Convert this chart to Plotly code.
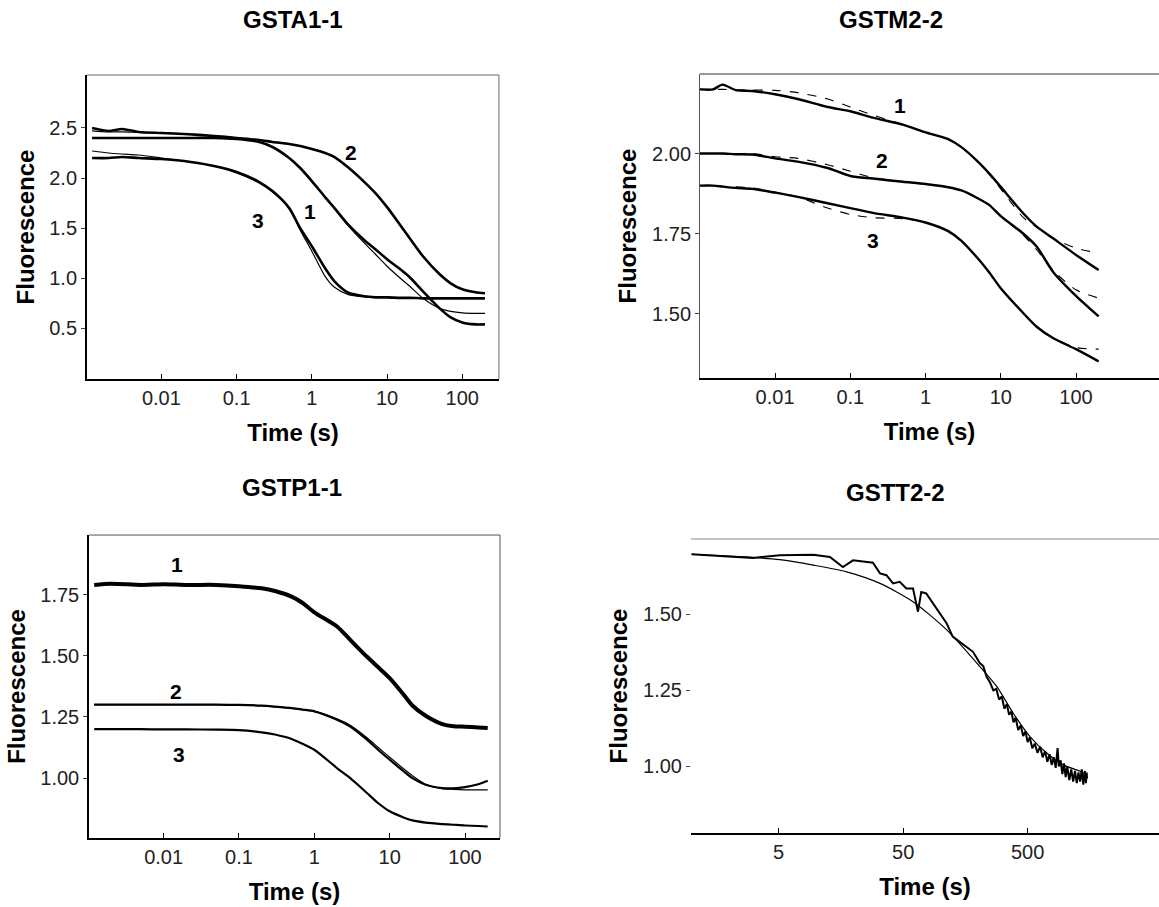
import plotly.graph_objects as go

# ---------------- data ----------------
# GSTA1-1
a_t = [0.0012, 0.002, 0.003, 0.005, 0.01, 0.02, 0.05, 0.1, 0.2, 0.3, 0.5, 0.7, 1, 1.5, 2, 3, 5, 7, 10, 15, 20, 30, 50, 70, 100, 150, 200]
a_d1 = [2.40, 2.40, 2.40, 2.40, 2.40, 2.40, 2.40, 2.39, 2.36, 2.31, 2.20, 2.10, 1.97, 1.81, 1.70, 1.54, 1.38, 1.29, 1.19, 1.09, 1.01, 0.87, 0.70, 0.61, 0.56, 0.54, 0.54]
a_f1 = [2.40, 2.40, 2.40, 2.40, 2.40, 2.40, 2.40, 2.39, 2.36, 2.31, 2.20, 2.10, 1.97, 1.81, 1.70, 1.53, 1.35, 1.24, 1.12, 1.00, 0.92, 0.80, 0.70, 0.67, 0.655, 0.65, 0.65]
a_d2 = [2.50, 2.47, 2.49, 2.46, 2.45, 2.44, 2.42, 2.40, 2.38, 2.36, 2.34, 2.32, 2.29, 2.25, 2.21, 2.11, 1.96, 1.85, 1.71, 1.53, 1.40, 1.22, 1.04, 0.95, 0.89, 0.86, 0.85]
a_f2 = [2.47, 2.46, 2.46, 2.455, 2.45, 2.44, 2.42, 2.40, 2.38, 2.36, 2.34, 2.32, 2.29, 2.25, 2.21, 2.11, 1.96, 1.85, 1.71, 1.53, 1.40, 1.22, 1.04, 0.95, 0.89, 0.86, 0.85]
a_d3 = [2.20, 2.20, 2.21, 2.20, 2.19, 2.17, 2.12, 2.06, 1.96, 1.87, 1.70, 1.50, 1.32, 1.10, 0.97, 0.86, 0.82, 0.81, 0.81, 0.805, 0.805, 0.80, 0.80, 0.80, 0.80, 0.80, 0.80]
a_f3 = [2.27, 2.25, 2.24, 2.23, 2.20, 2.17, 2.12, 2.05, 1.95, 1.86, 1.70, 1.48, 1.27, 1.02, 0.91, 0.84, 0.815, 0.81, 0.81, 0.805, 0.805, 0.80, 0.80, 0.80, 0.80, 0.80, 0.80]

# GSTM2-2
m_t = [0.001, 0.0015, 0.002, 0.003, 0.005, 0.01, 0.02, 0.05, 0.1, 0.2, 0.5, 1, 2, 3, 5, 7, 10, 20, 30, 50, 100, 200]
m_d1 = [2.20, 2.20, 2.215, 2.198, 2.195, 2.185, 2.17, 2.145, 2.132, 2.112, 2.09, 2.066, 2.045, 2.02, 1.974, 1.938, 1.896, 1.813, 1.772, 1.735, 1.684, 1.637]
m_f1 = [2.20, 2.20, 2.20, 2.199, 2.198, 2.197, 2.19, 2.17, 2.145, 2.12, 2.09, 2.066, 2.045, 2.02, 1.974, 1.935, 1.89, 1.80, 1.77, 1.735, 1.705, 1.69]
m_d2 = [2.00, 2.00, 2.00, 1.998, 1.997, 1.985, 1.975, 1.955, 1.93, 1.922, 1.912, 1.905, 1.895, 1.885, 1.86, 1.84, 1.805, 1.75, 1.71, 1.63, 1.556, 1.492]
m_f2 = [2.00, 2.00, 2.00, 2.00, 2.00, 1.99, 1.985, 1.965, 1.945, 1.925, 1.912, 1.905, 1.895, 1.885, 1.86, 1.84, 1.805, 1.745, 1.70, 1.635, 1.575, 1.549]
m_d3 = [1.90, 1.90, 1.897, 1.893, 1.89, 1.878, 1.865, 1.845, 1.83, 1.815, 1.80, 1.785, 1.758, 1.728, 1.672, 1.63, 1.58, 1.502, 1.46, 1.424, 1.39, 1.352]
m_f3 = [1.90, 1.90, 1.898, 1.896, 1.893, 1.88, 1.865, 1.83, 1.81, 1.80, 1.797, 1.785, 1.758, 1.728, 1.672, 1.63, 1.58, 1.502, 1.46, 1.425, 1.395, 1.39]

# GSTP1-1
p_t = [0.0012, 0.002, 0.005, 0.01, 0.02, 0.05, 0.1, 0.2, 0.3, 0.5, 0.7, 1, 2, 3, 5, 7, 10, 15, 20, 30, 50, 70, 100, 150, 200]
p_d1 = [1.79, 1.795, 1.79, 1.793, 1.79, 1.79, 1.785, 1.776, 1.765, 1.742, 1.716, 1.678, 1.62, 1.565, 1.496, 1.454, 1.409, 1.345, 1.297, 1.255, 1.221, 1.212, 1.21, 1.207, 1.205]
p_d2 = [1.30, 1.30, 1.30, 1.30, 1.30, 1.30, 1.299, 1.296, 1.292, 1.286, 1.28, 1.273, 1.239, 1.211, 1.157, 1.116, 1.075, 1.03, 1.00, 0.973, 0.959, 0.958, 0.963, 0.975, 0.989]
p_f2 = [1.30, 1.30, 1.30, 1.30, 1.30, 1.30, 1.299, 1.296, 1.292, 1.286, 1.28, 1.273, 1.242, 1.216, 1.165, 1.126, 1.085, 1.04, 1.01, 0.975, 0.957, 0.954, 0.952, 0.952, 0.952]
p_d3 = [1.20, 1.20, 1.20, 1.199, 1.199, 1.198, 1.196, 1.187, 1.178, 1.16, 1.14, 1.116, 1.041, 1.00, 0.939, 0.898, 0.864, 0.84, 0.827, 0.818, 0.812, 0.809, 0.806, 0.804, 0.802]

# GSTT2-2 (noisy trace, read point by point)
t_t = [1.0, 2.04, 3.1, 5.1, 9.5, 12.9, 16.4, 19.8, 23.8, 28.6, 32.6, 36.7, 41.5, 46.9, 53.1, 60, 65.8, 69.9,
       76.6, 86.5, 97.8, 112, 125, 142, 161, 182, 207, 220, 234, 250, 265, 280, 295, 310, 325, 340, 355, 370,
       385, 400, 420, 440, 460, 480, 500, 520, 545, 570, 600, 630, 660, 690, 720, 750, 780, 810, 840, 870,
       890, 920, 950, 980, 1010, 1040, 1080, 1120, 1160, 1200, 1240, 1280, 1320, 1360, 1400, 1440, 1470, 1490, 1500]
t_d = [1.698, 1.691, 1.686, 1.695, 1.696, 1.689, 1.656, 1.678, 1.673, 1.670, 1.635, 1.629, 1.602, 1.607, 1.585, 1.585, 1.509, 1.574,
       1.569, 1.536, 1.503, 1.47, 1.427, 1.41, 1.394, 1.377, 1.339, 1.33, 1.295, 1.275, 1.25, 1.255, 1.22, 1.23, 1.19, 1.205, 1.17, 1.18,
       1.145, 1.16, 1.12, 1.135, 1.10, 1.115, 1.08, 1.095, 1.06, 1.075, 1.045, 1.065, 1.03, 1.05, 1.015, 1.04, 1.005, 1.03, 0.995, 1.06,
       1.00, 1.02, 0.975, 1.01, 0.965, 1.00, 0.955, 0.99, 0.95, 0.985, 0.945, 0.98, 0.95, 0.99, 0.94, 0.985, 0.945, 0.98, 0.96]
t_ft = [1.0, 2.77, 5.1, 9.5, 17.6, 32.6, 60, 112, 207, 282, 383, 522, 711, 968, 1317, 1490]
t_f = [1.698, 1.689, 1.68, 1.662, 1.64, 1.602, 1.542, 1.449, 1.328, 1.263, 1.175, 1.098, 1.044, 1.005, 0.984, 0.973]

x_ticks = [0.01, 0.1, 1, 10, 100]
x_ticktext = ["0.01", "0.1", "1", "10", "100"]
t_xticks = [5, 50, 500]
a_yticks = [0.5, 1.0, 1.5, 2.0, 2.5]
m_yticks = [1.50, 1.75, 2.00]
p_yticks = [1.00, 1.25, 1.50, 1.75]
tt_yticks = [1.00, 1.25, 1.50]

# ---------------- figure ----------------
fig = go.Figure()
FONT = "Liberation Sans, Arial, sans-serif"


def add(x, y, ax, width, dash="solid", shape="spline"):
    fig.add_trace(go.Scatter(
        x=x, y=y, mode="lines", xaxis="x" + ax, yaxis="y" + ax,
        line=dict(color="black", width=width, dash=dash, shape=shape, smoothing=0.7),
        showlegend=False, hoverinfo="skip"))


# panel A
add(a_t, a_f1, "", 1.2)
add(a_t, a_f2, "", 1.2)
add(a_t, a_f3, "", 1.2)
add(a_t, a_d1, "", 2.6)
add(a_t, a_d2, "", 2.6)
add(a_t, a_d3, "", 2.6)
# panel M
add(m_t, m_f1, "2", 1.1, "dash")
add(m_t, m_f2, "2", 1.1, "dash")
add(m_t, m_f3, "2", 1.1, "dash")
add(m_t, m_d1, "2", 2.4)
add(m_t, m_d2, "2", 2.4)
add(m_t, m_d3, "2", 2.4)
# panel P
add(p_t, p_f2, "3", 1.2)
add(p_t, p_d1, "3", 4.0)
add(p_t, p_d2, "3", 2.2)
add(p_t, p_d3, "3", 2.2)
# panel T
add(t_ft, t_f, "4", 1.2, "solid")
add(t_t, t_d, "4", 2.0, "solid", "linear")

tickfont = dict(family=FONT, size=20, color="#222")
titlefont = dict(family=FONT, size=24, color="black", weight="bold")


def xax(domain, anchor, rng, tickvals, ticktext):
    return dict(type="log", domain=domain, anchor=anchor, range=rng,
                tickvals=tickvals, ticktext=ticktext, ticks="inside", ticklen=5,
                tickcolor="black", tickwidth=1, showline=True, linecolor="black",
                linewidth=2, showgrid=False, zeroline=False, tickfont=tickfont,
                title=dict(text="Time (s)", font=titlefont, standoff=16))


def yax(domain, anchor, rng, tickvals, ticktext, showline, lw, lc):
    return dict(domain=domain, anchor=anchor, range=rng,
                tickvals=tickvals, ticktext=ticktext, ticks="outside", ticklen=4,
                tickcolor="#444", tickwidth=1, showline=showline, linecolor=lc,
                linewidth=lw, showgrid=False, zeroline=False, tickfont=tickfont,
                title=dict(text="Fluorescence", font=titlefont, standoff=8))


fig.update_layout(
    width=1159, height=907, margin=dict(l=0, r=0, t=0, b=0),
    paper_bgcolor="white", plot_bgcolor="white", showlegend=False,
    xaxis=xax([0.0751, 0.4305], "y", [-2.988, 2.487], x_ticks, x_ticktext),
    yaxis=yax([0.5821, 0.9173], "x", [-0.005, 3.028], a_yticks,
              ["0.5", "1.0", "1.5", "2.0", "2.5"], True, 2, "black"),
    xaxis2=xax([0.6040, 1.0], "y2", [-2.997, 3.103], x_ticks, x_ticktext),
    yaxis2=yax([0.5832, 0.9184], "x2", [1.30, 2.248], m_yticks,
               ["1.50", "1.75", "2.00"], True, 1, "#555"),
    xaxis3=xax([0.0768, 0.4314], "y3", [-2.99, 2.464], x_ticks, x_ticktext),
    yaxis3=yax([0.0761, 0.4101], "x3", [0.755, 1.994], p_yticks,
               ["1.00", "1.25", "1.50", "1.75"], True, 1.5, "black"),
    xaxis4=xax([0.5962, 1.0], "y4", [-0.005, 3.754], t_xticks, ["5", "50", "500"]),
    yaxis4=yax([0.0816, 0.4057], "x4", [0.781, 1.748], tt_yticks,
               ["1.00", "1.25", "1.50"], False, 1, "#555"),
)

# frame lines (top / right)
shapes = []
for ax, right, col in [("", True, "#666"), ("2", False, "#333"), ("3", True, "#555"), ("4", False, "#888")]:
    xr = ("x" + ax) + " domain" if ax else "x domain"
    yr = ("y" + ax) + " domain" if ax else "y domain"
    shapes.append(dict(type="line", xref=xr, yref=yr, x0=0, x1=1, y0=1, y1=1,
                       line=dict(color=col, width=1)))
    if right:
        shapes.append(dict(type="line", xref=xr, yref=yr, x0=1, x1=1, y0=0, y1=1,
                           line=dict(color=col, width=1)))
fig.update_layout(shapes=shapes)

# panel titles
titles = [("GSTA1-1", 293, 20), ("GSTM2-2", 891, 20), ("GSTP1-1", 292, 487), ("GSTT2-2", 895, 492)]
for txt, px, py in titles:
    fig.add_annotation(text=txt, x=px / 1159, y=1 - py / 907, xref="paper", yref="paper",
                       showarrow=False, xanchor="center", yanchor="middle",
                       font=dict(family=FONT, size=24, color="black", weight="bold"))

# curve number labels
lab_font = dict(family=FONT, size=21, color="black", weight="bold")
labels = [("2", 0.52, 2.25, ""), ("1", -0.024, 1.663, ""), ("3", -0.711, 1.58, ""),
          ("1", -0.339, 2.150, "2"), ("2", -0.583, 1.979, "2"), ("3", -0.702, 1.730, "2"),
          ("1", -1.823, 1.873, "3"), ("2", -1.83, 1.355, "3"), ("3", -1.79, 1.095, "3")]
for txt, lx, ly, ax in labels:
    fig.add_annotation(text=txt, x=lx, y=ly, xref="x" + ax, yref="y" + ax,
                       showarrow=False, font=lab_font)

fig.write_html("out.html")
